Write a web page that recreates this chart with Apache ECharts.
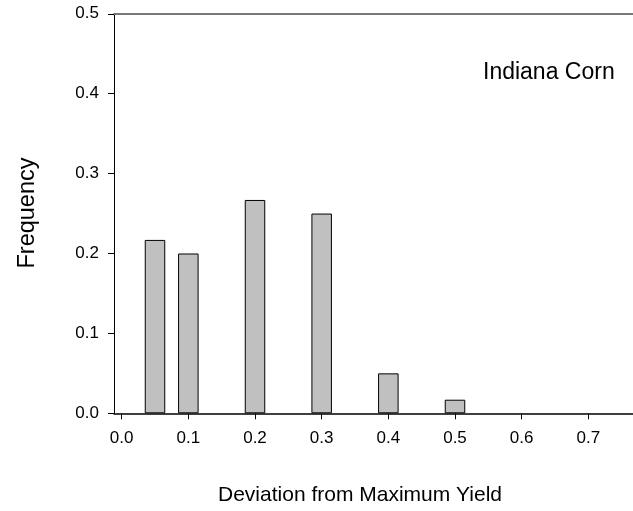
<!DOCTYPE html>
<html>
<head>
<meta charset="utf-8">
<script src="https://cdn.jsdelivr.net/npm/echarts@6/dist/echarts.min.js"></script>
<style>
html,body{margin:0;padding:0;background:#fff;}
#chart{width:633px;height:511px;}
</style>
</head>
<body>
<div id="chart"></div>
<script>
// Data
const deviations = [0.05, 0.1, 0.2, 0.3, 0.4, 0.5];
const frequencies = [0.217, 0.200, 0.267, 0.250, 0.050, 0.017];
const xTickValues = [0.0, 0.1, 0.2, 0.3, 0.4, 0.5, 0.6, 0.7];
const yTickValues = [0.0, 0.1, 0.2, 0.3, 0.4, 0.5];
const titleText = 'Indiana Corn';
const xAxisName = 'Deviation from Maximum Yield';
const yAxisName = 'Frequency';

const FONT = 'Liberation Sans, Arial, sans-serif';
const chart = echarts.init(document.getElementById('chart'), null, {renderer: 'canvas'});

const option = {
  backgroundColor: '#ffffff',
  animation: false,
  grid: {left: 114, right: 0, top: 13.8, height: 399.5, containLabel: false},
  xAxis: [{
    type: 'value',
    position: 'bottom',
    min: -0.0115,
    max: 0.767,
    axisLine: {show: true, onZero: false, lineStyle: {color: '#000', width: 1.5}},
    axisTick: {show: true, inside: false, length: 6, customValues: xTickValues, lineStyle: {color: '#000', width: 1}},
    axisLabel: {show: true, customValues: xTickValues, margin: 17, color: '#000', fontSize: 17, fontFamily: FONT,
      formatter: v => Number(v).toFixed(1)},
    splitLine: {show: false}
  }, {
    type: 'value',
    position: 'top',
    min: -0.0115,
    max: 0.767,
    axisLine: {show: true, onZero: false, lineStyle: {color: '#777', width: 2}},
    axisTick: {show: false},
    axisLabel: {show: false},
    splitLine: {show: false}
  }],
  yAxis: {
    type: 'value',
    min: 0,
    max: 0.5,
    interval: 0.1,
    axisLine: {show: true, onZero: false, lineStyle: {color: '#000', width: 1}},
    axisTick: {show: true, inside: false, length: 6, lineStyle: {color: '#000', width: 1}},
    axisLabel: {show: true, margin: 15, color: '#000', fontSize: 17, fontFamily: FONT,
      customValues: yTickValues,
      formatter: v => Number(v).toFixed(1)},
    splitLine: {show: false}
  },
  series: [{
    type: 'bar',
    xAxisIndex: 0,
    barWidth: 20.5,
    data: deviations.map((d, i) => [d, frequencies[i]]),
    itemStyle: {color: '#c0c0c0', borderColor: '#000', borderWidth: 1},
    emphasis: {disabled: true}
  }],
  graphic: [{
    type: 'text',
    left: 483,
    top: 61,
    style: {text: titleText, fill: '#000', font: '23px ' + FONT}
  }, {
    type: 'text',
    x: 360,
    y: 495,
    style: {text: xAxisName, fill: '#000', font: '21px ' + FONT, align: 'center', verticalAlign: 'middle'}
  }, {
    type: 'text',
    x: 28,
    y: 213,
    rotation: Math.PI / 2,
    style: {text: yAxisName, fill: '#000', font: '23.5px ' + FONT, align: 'center', verticalAlign: 'middle'}
  }]
};
chart.setOption(option);
</script>
</body>
</html>
